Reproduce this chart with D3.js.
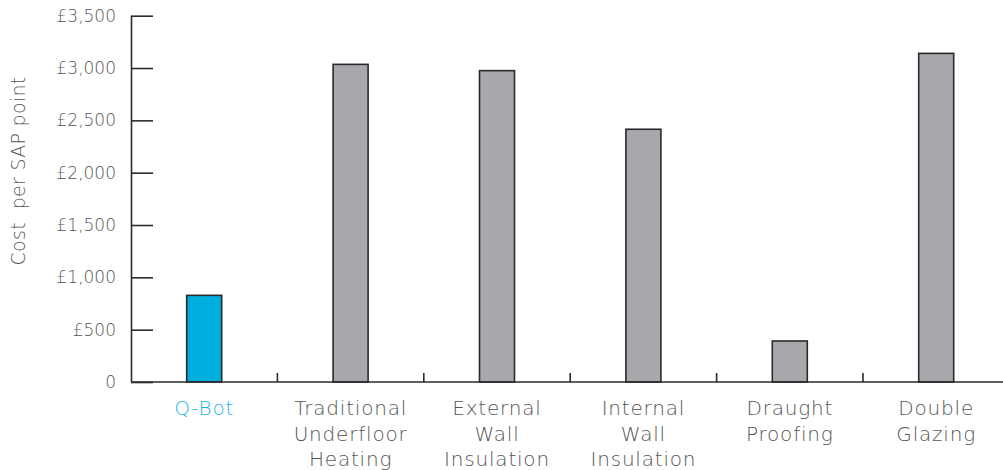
<!DOCTYPE html>
<html><head><meta charset="utf-8">
<script src="https://cdn.jsdelivr.net/npm/d3@7"></script>
<style>
html,body{margin:0;padding:0;background:#fff;}
svg{display:block;}
text{font-family:"DejaVu Sans",sans-serif;font-weight:200;fill:#555;}
</style></head>
<body>
<svg id="chart" width="1003" height="470"></svg>
<script>
const categories = [["Q-Bot"],["Traditional","Underfloor","Heating"],["External","Wall","Insulation"],["Internal","Wall","Insulation"],["Draught","Proofing"],["Double","Glazing"]];
const values = [828, 3035, 2975, 2415, 392, 3140];
const highlight = [true, false, false, false, false, false];
const yTicks = [0, 500, 1000, 1500, 2000, 2500, 3000, 3500];
const yTitle = "Cost\u00a0 per SAP point";

const svg = d3.select("#chart");
const x0 = 131, xEnd = 1009.4, yTop = 15.7, yBase = 382;
const ids = categories.map((c,i)=>i);
const x = d3.scaleBand().domain(ids).range([x0, xEnd]).padding(0);
const y = d3.scaleLinear().domain([0, 3500]).range([yBase, yTop]);
const bw = 35;
const axisColor = "#2b2b2b";

// bars
svg.append("g").selectAll("rect").data(values).join("rect")
  .attr("x", (d,i)=>x(i)+x.bandwidth()/2-bw/2)
  .attr("y", d=>y(d))
  .attr("width", bw)
  .attr("height", d=>yBase-y(d))
  .attr("fill", (d,i)=>highlight[i] ? "#00aedd" : "#a7a8ab")
  .attr("stroke", "#2a2a2a").attr("stroke-width", 1.6);

// y axis
const yAxis = d3.axisRight(y).tickValues(yTicks).tickSize(22).tickFormat("");
const gy = svg.append("g").attr("transform", `translate(${x0},0)`).call(yAxis);
gy.select(".domain").attr("stroke", axisColor).attr("stroke-width", 1.6).attr("d", `M0.5,${yTop}V${yBase}`);
gy.selectAll(".tick line").attr("stroke", axisColor).attr("stroke-width", 1.6);

// y tick labels
svg.append("g").selectAll("text").data(yTicks).join("text")
  .attr("x", 116).attr("y", d=>y(d)+6)
  .attr("text-anchor","end").attr("font-size", 17)
  .text(d=> d===0 ? "0" : "£" + d3.format(",")(d));

// x axis baseline
svg.append("line").attr("x1", x0).attr("x2", 1003).attr("y1", yBase).attr("y2", yBase)
  .attr("stroke", axisColor).attr("stroke-width", 1.6);
// x ticks at band boundaries
svg.append("g").selectAll("line").data(ids.slice(1)).join("line")
  .attr("x1", d=>x(d)).attr("x2", d=>x(d)).attr("y1", yBase).attr("y2", yBase-9)
  .attr("stroke", axisColor).attr("stroke-width", 1.6);

// x labels
const lg = svg.append("g").selectAll("text").data(categories).join("text")
  .attr("text-anchor","middle").attr("font-size", 20)
  .attr("letter-spacing", 0.8)
  .style("fill", (d,i)=>highlight[i] ? "#1fb3e3" : "#555");
lg.each(function(lines,i){
  d3.select(this).selectAll("tspan").data(lines).join("tspan")
    .attr("x", x(i)+x.bandwidth()/2)
    .attr("y", (l,j)=>415+j*25.5)
    .text(l=>l);
});

// y title
svg.append("text").attr("transform", "translate(25,171) rotate(-90)")
  .attr("text-anchor","middle").attr("font-size", 19)
  .attr("letter-spacing", 0.3)
  .text(yTitle);
</script>
</body></html>
